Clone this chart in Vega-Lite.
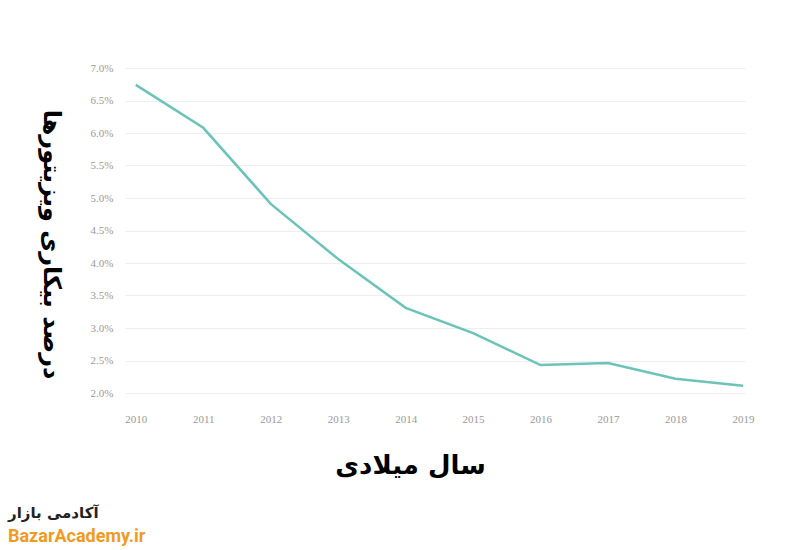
{
  "$schema": "https://vega.github.io/schema/vega-lite/v6.json",
  "width": 620,
  "height": 325,
  "autosize": {"type": "none"},
  "padding": {"left": 125, "top": 68, "right": 55, "bottom": 157},
  "background": "white",
  "data": {
    "values": [
      {"year": 2010, "rate": 0.0674},
      {"year": 2011, "rate": 0.0608},
      {"year": 2012, "rate": 0.0491},
      {"year": 2013, "rate": 0.0406},
      {"year": 2014, "rate": 0.0331},
      {"year": 2015, "rate": 0.0292},
      {"year": 2016, "rate": 0.0243},
      {"year": 2017, "rate": 0.0246},
      {"year": 2018, "rate": 0.0222},
      {"year": 2019, "rate": 0.0211}
    ]
  },
  "title": {
    "text": "آکادمی بازار",
    "subtitle": "BazarAcademy.ir",
    "orient": "bottom",
    "anchor": "start",
    "frame": "group",
    "dx": -117,
    "offset": 28,
    "font": "DejaVu Sans",
    "fontSize": 15,
    "fontWeight": "bold",
    "color": "#222222",
    "subtitleFont": "Roboto",
    "subtitleFontSize": 18,
    "subtitleFontWeight": "bold",
    "subtitleColor": "#f29a1f",
    "subtitlePadding": 7
  },
  "mark": {"type": "line", "color": "#6cc3b8", "strokeWidth": 2.5},
  "encoding": {
    "x": {
      "field": "year",
      "type": "quantitative",
      "scale": {"domain": [2009.84, 2019.03], "nice": false, "zero": false},
      "axis": {
        "values": [2010, 2011, 2012, 2013, 2014, 2015, 2016, 2017, 2018, 2019],
        "format": "d",
        "grid": false,
        "domain": false,
        "ticks": false,
        "labelFont": "Liberation Serif",
        "labelFontSize": 11,
        "labelColor": "#999999",
        "labelPadding": 20,
        "title": "سال میلادی",
        "titleFont": "DejaVu Sans",
        "titleFontSize": 26,
        "titleFontWeight": "bold",
        "titleColor": "#000000",
        "titleX": 285,
        "titleY": 72,
        "titleBaseline": "middle",
        "titleAlign": "center"
      }
    },
    "y": {
      "field": "rate",
      "type": "quantitative",
      "scale": {"domain": [0.02, 0.07], "nice": false, "zero": false},
      "axis": {
        "values": [0.02, 0.025, 0.03, 0.035, 0.04, 0.045, 0.05, 0.055, 0.06, 0.065, 0.07],
        "format": ".1%",
        "grid": true,
        "gridColor": "#eeeeee",
        "gridWidth": 1,
        "domain": false,
        "ticks": false,
        "labelFont": "Liberation Serif",
        "labelFontSize": 11,
        "labelColor": "#999999",
        "labelPadding": 12,
        "title": "درصد بیکاری ویزیتورها",
        "titleFont": "DejaVu Sans",
        "titleFontSize": 24,
        "titleFontWeight": "bold",
        "titleColor": "#000000",
        "titleAngle": 90,
        "titleX": -75,
        "titleY": 176,
        "titleBaseline": "middle",
        "titleAlign": "center"
      }
    }
  },
  "config": {"view": {"stroke": null}}
}
